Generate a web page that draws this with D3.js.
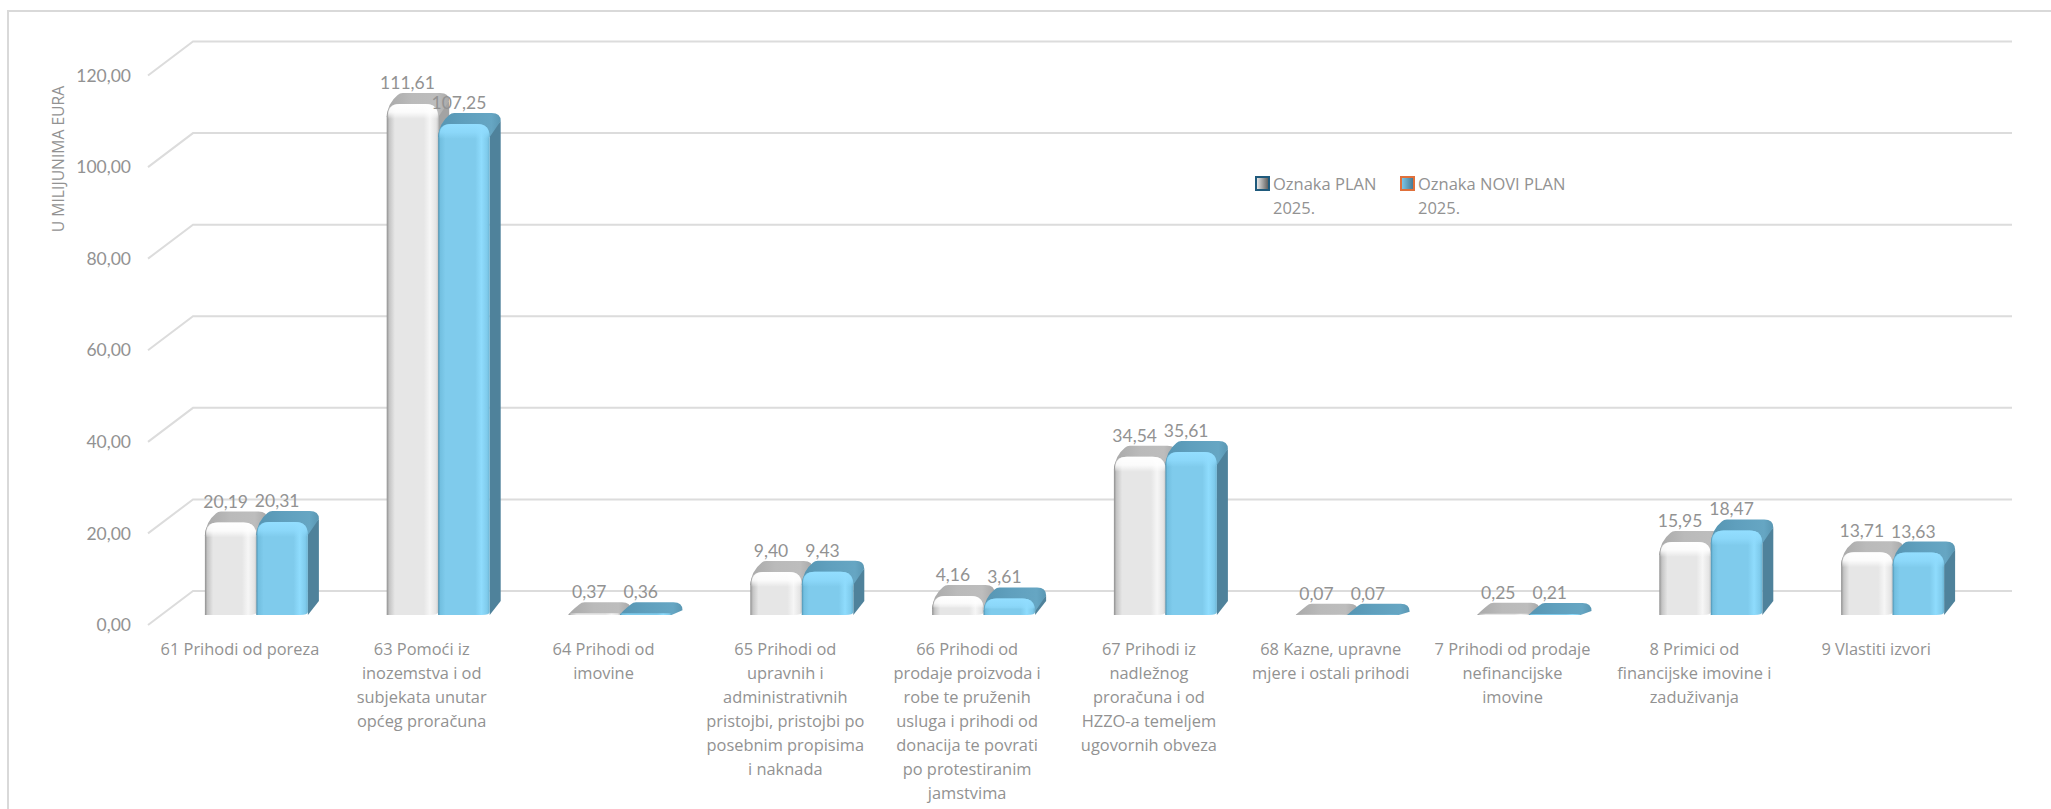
<!DOCTYPE html>
<html><head><meta charset="utf-8">
<script src="https://cdn.jsdelivr.net/npm/d3@7/dist/d3.min.js"></script>
<style>
html,body{margin:0;padding:0;background:#fff;overflow:hidden}
svg{display:block}
text{font-family:Lato,"Open Sans",sans-serif;fill:#929292}
text.wide{font-family:"Open Sans",Lato,sans-serif}
</style></head><body>
<script>
const categories = [
  ["61 Prihodi od poreza"],
  ["63 Pomoći iz","inozemstva i od","subjekata unutar","općeg proračuna"],
  ["64 Prihodi od","imovine"],
  ["65 Prihodi od","upravnih i","administrativnih","pristojbi, pristojbi po","posebnim propisima","i naknada"],
  ["66 Prihodi od","prodaje proizvoda i","robe te pruženih","usluga i prihodi od","donacija te povrati","po protestiranim","jamstvima"],
  ["67 Prihodi iz","nadležnog","proračuna i od","HZZO-a temeljem","ugovornih obveza"],
  ["68 Kazne, upravne","mjere i ostali prihodi"],
  ["7 Prihodi od prodaje","nefinancijske","imovine"],
  ["8 Primici od","financijske imovine i","zaduživanja"],
  ["9 Vlastiti izvori"]
];
const plan2025 = [20.19,111.61,0.37,9.40,4.16,34.54,0.07,0.25,15.95,13.71];
const noviPlan2025 = [20.31,107.25,0.36,9.43,3.61,35.61,0.07,0.21,18.47,13.63];
const seriesNames = ["Oznaka PLAN 2025.","Oznaka NOVI PLAN 2025."];
const yTicks = [0,20,40,60,80,100,120];
const yTitle = "U MILIJUNIMA EURA";

const W=2051,H=809, dx=11, dy=11, gridBackDy=-24, gridFrontDy=10;
const svg=d3.select("body").append("svg").attr("width",W).attr("height",H);
const y=d3.scaleLinear().domain([0,120]).range([615,65.5]);
const x=d3.scaleBand().domain(d3.range(10)).range([149,1967]);
const xs=d3.scaleBand().domain([0,1]).range([-35,68]);
const fmt=d3.formatLocale({decimal:",",thousands:".",grouping:[3],currency:["",""]}).format(".2f");

const defs=svg.append("defs");
function grad(id,stops,vert){
  const g=defs.append("linearGradient").attr("id",id).attr("x1",0).attr("y1",0).attr("x2",vert?0:1).attr("y2",vert?1:0);
  stops.forEach(s=>g.append("stop").attr("offset",s[0]).attr("stop-color",s[1]).attr("stop-opacity",s[2]===undefined?1:s[2]));
}
grad("fw",[[0,"#8f8f8f"],[.05,"#c4c4c4"],[.16,"#e6e6e6"],[.72,"#e6e6e6"],[.84,"#f6f6f6"],[.96,"#e4e4e4"],[1,"#c9c9c9"]]);
grad("fb",[[0,"#4f93b2"],[.04,"#72bfe0"],[.14,"#7fcbec"],[.72,"#7fcbec"],[.84,"#8fdcfd"],[.95,"#7fcbec"],[1,"#6cb4d3"]]);
grad("tw",[[0,"#a9a9a9"],[.4,"#bababa"],[.8,"#bdbdbd"],[1,"#a8a8a8"]]);
grad("tb",[[0,"#5695b2"],[.4,"#5f9fbd"],[.85,"#66a6c3"],[1,"#5a97b3"]]);
grad("bw",[[0,"#ffffff",1],[.55,"#ffffff",.85],[1,"#ffffff",0]],true);
grad("bb",[[0,"#93deff",1],[.55,"#8fdbfd",.8],[1,"#8fdbfd",0]],true);
grad("sw1",[[0,"#f2f2f2"],[1,"#555"]]);
grad("sw2",[[0,"#7fcbec"],[1,"#44748c"]]);

// frame
svg.append("path").attr("d",d3.line()([[8,809],[8,11],[2051,11]])).attr("fill","none").attr("stroke","#d9d9d9").attr("stroke-width",2);

// gridlines
const line=d3.line();
svg.append("g").selectAll("path").data(yTicks).join("path")
  .attr("d",t=>line([[148,y(t)+gridFrontDy],[193,y(t)+gridBackDy],[2012,y(t)+gridBackDy]]))
  .attr("fill","none").attr("stroke","#dcdcdc").attr("stroke-width",2);

// y axis
const ax=svg.append("g").attr("transform",`translate(131,${gridFrontDy})`)
  .call(d3.axisLeft(y).tickValues(yTicks).tickFormat(fmt).tickSize(0).tickPadding(0));
ax.select(".domain").remove();
ax.selectAll("text").attr("font-size",17.5).style("font-family",'Lato,"Open Sans",sans-serif').style("fill","#929292");

svg.append("text").attr("class","wide").attr("transform","translate(64,159) rotate(-90)").attr("text-anchor","middle")
  .attr("font-size",15.7).text(yTitle);

// bars
const base=y(0);
function topPath(x0,x1,yy,r){
  const p=d3.path();
  p.moveTo(x0,yy+r);
  p.quadraticCurveTo(x0+1,yy-1,x0+dx,yy-dy+2);
  p.quadraticCurveTo(x0+dx+2,yy-dy,x0+dx+5,yy-dy);
  p.lineTo(x1+dx-9,yy-dy);
  p.quadraticCurveTo(x1+dx,yy-dy,x1+dx,yy-dy+8);
  p.lineTo(x1,yy+r);
  p.closePath();
  return p.toString();
}
function sidePath(x1,yy){
  const p=d3.path();
  p.moveTo(x1,yy+8);
  p.lineTo(x1+dx,yy-dy+8);
  p.lineTo(x1+dx,base-dy-3);
  p.lineTo(x1,base);
  p.closePath();
  return p.toString();
}
function frontPath(x0,x1,yy,r){
  const p=d3.path();
  p.moveTo(x0,base);
  p.lineTo(x0,yy+r);
  p.quadraticCurveTo(x0,yy,x0+r,yy);
  p.lineTo(x1-r,yy);
  p.quadraticCurveTo(x1,yy,x1,yy+r);
  p.lineTo(x1,base-Math.min(r,3));
  p.quadraticCurveTo(x1,base,x1-Math.min(r,8),base);
  p.closePath();
  return p.toString();
}
const rows=categories.map((c,i)=>({i,vals:[plan2025[i],noviPlan2025[i]]}));
const gs=svg.append("g").selectAll("g").data(rows).join("g")
  .attr("transform",d=>`translate(${x(d.i)+x.bandwidth()/2},0)`);
const sideCol=["#a3a3a3","#4f829b"],topId=["tw","tb"],frontId=["fw","fb"],bevelId=["bw","bb"];
gs.each(function(d){
  const g=d3.select(this);
  d.vals.forEach((v,s)=>{
    const x0=xs(s),x1=x0+xs.bandwidth(),yy=y(v),h=base-yy,r=Math.min(13,h);
    g.append("path").attr("d",sidePath(x1,yy)).attr("fill",sideCol[s]).attr("opacity",h>8?1:0);
    g.append("path").attr("d",topPath(x0,x1,yy,r)).attr("fill",`url(#${topId[s]})`);
    g.append("path").attr("d",frontPath(x0,x1,yy,r)).attr("fill",`url(#${frontId[s]})`);
    if(h>6){
      const bh=Math.min(15,h*0.6), p=d3.path();
      p.moveTo(x0+1,yy+bh);p.lineTo(x0+1,yy+r);p.quadraticCurveTo(x0+1,yy,x0+r,yy);
      p.lineTo(x1-r,yy);p.quadraticCurveTo(x1,yy,x1,yy+r);p.lineTo(x1,yy+bh);p.closePath();
      g.append("path").attr("d",p.toString()).attr("fill",`url(#${bevelId[s]})`);
    }
  });
});
// data labels (drawn over bars)
const lg=svg.append("g").selectAll("g").data(rows).join("g")
  .attr("transform",d=>`translate(${x(d.i)+x.bandwidth()/2},0)`);
lg.selectAll("text").data(d=>d.vals.map((v,s)=>({v,s}))).join("text")
  .attr("x",d=>xs(d.s)+xs.bandwidth()/2-5).attr("y",d=>y(d.v)-15)
  .attr("text-anchor","middle").attr("font-size",17.5).text(d=>fmt(d.v));

// category labels
svg.append("g").selectAll("text").data(categories).join("text").attr("class","wide")
  .attr("text-anchor","middle").attr("font-size",16.4)
  .attr("transform",(d,i)=>`translate(${x(i)+x.bandwidth()/2},655)`)
  .selectAll("tspan").data(d=>d).join("tspan").attr("x",0).attr("y",(d,i)=>i*24).text(d=>d);

// legend
const legendX=[1256,1401], legendBorder=["#1f5a7c","#e0703a"], legendFill=["sw1","sw2"];
const legendLines=[["Oznaka PLAN","2025."],["Oznaka NOVI PLAN","2025."]];
const leg=svg.append("g").selectAll("g").data(seriesNames).join("g").attr("transform",(d,i)=>`translate(${legendX[i]},177)`);
leg.append("rect").attr("width",13).attr("height",13).attr("fill",(d,i)=>`url(#${legendFill[i]})`)
  .attr("stroke",(d,i)=>legendBorder[i]).attr("stroke-width",2);
leg.each(function(d,i){
  d3.select(this).append("text").attr("class","wide").attr("font-size",16.5).selectAll("tspan").data(legendLines[i]).join("tspan")
    .attr("x",17).attr("y",(t,j)=>13+j*24).text(t=>t);
});
</script>
</body></html>
